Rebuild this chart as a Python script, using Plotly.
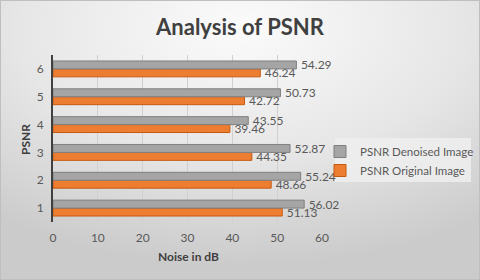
import base64
import plotly.graph_objects as go

categories = ["1", "2", "3", "4", "5", "6"]
denoised = [56.02, 55.24, 52.87, 43.55, 50.73, 54.29]
original = [51.13, 48.66, 44.35, 39.46, 42.72, 46.24]
x_ticks = [0, 10, 20, 30, 40, 50, 60]

W, H = 480, 280
ML, MR, MT, MB = 53, 158, 55, 58
PW, PH = W - ML - MR, H - MT - MB

svg = f'''<svg xmlns="http://www.w3.org/2000/svg" width="{W}" height="{H}" viewBox="0 0 {W} {H}" preserveAspectRatio="none">
<defs><radialGradient id="g" cx="50%" cy="10%" r="85%" fx="50%" fy="10%">
<stop offset="0%" stop-color="#fbfbfb"/><stop offset="55%" stop-color="#e6e6e6"/><stop offset="100%" stop-color="#cbcbcb"/>
</radialGradient></defs>
<rect x="0" y="0" width="{W}" height="{H}" fill="url(#g)"/>
<rect x="0.5" y="0.5" width="{W-1}" height="{H-1}" fill="none" stroke="#bfbfbf" stroke-width="1"/>
</svg>'''
src = "data:image/svg+xml;base64," + base64.b64encode(svg.encode()).decode()

font = "Lato, 'Open Sans', sans-serif"

def px_x(p):
    return (p - ML) / PW

def px_y(p):
    return 1 - (p - MT) / PH

fig = go.Figure()
fig.add_trace(go.Bar(
    y=categories, x=original, orientation="h", name="PSNR Original Image",
    marker=dict(color="#ed7d31", line=dict(color="#c55a11", width=1)),
    text=[f"\u2009{v:.2f}" for v in original], textposition="outside", constraintext="none",
    textfont=dict(size=12, color="#595959"), cliponaxis=False,
))
fig.add_trace(go.Bar(
    y=categories, x=denoised, orientation="h", name="PSNR Denoised Image",
    marker=dict(color="#a5a5a5", line=dict(color="#7f7f7f", width=1)),
    text=[f"\u2009{v:.2f}" for v in denoised], textposition="outside", constraintext="none",
    textfont=dict(size=12, color="#595959"), cliponaxis=False,
))

fig.update_layout(
    width=W, height=H,
    margin=dict(l=ML, r=MR, t=MT, b=MB, pad=0, autoexpand=False),
    paper_bgcolor="#e0e0e0", plot_bgcolor="rgba(0,0,0,0)",
    font=dict(family=font, color="#595959", size=12),
    barmode="group", bargap=0.43, bargroupgap=0,
    title=dict(text="<b>Analysis of PSNR</b>", x=0.5, xref="container", xanchor="center",
               y=1 - 27 / H, yref="container", yanchor="middle",
               font=dict(family=font, size=22, color="#404040")),
    showlegend=True,
    legend=dict(traceorder="reversed", xref="container", yref="container",
                x=320 / W, y=1 - 137 / H,
                xanchor="left", yanchor="top", bgcolor="rgba(0,0,0,0)",
                font=dict(size=11.5, color="#595959"), itemwidth=30,
                tracegroupgap=2),
    shapes=[dict(type="rect", xref="paper", yref="paper", layer="below",
                 x0=px_x(335), x1=px_x(471), y0=px_y(182), y1=px_y(138),
                 fillcolor="rgba(238,238,238,0.85)", line=dict(width=0))],
    annotations=[
        dict(text="<b>PSNR</b>", xref="paper", yref="paper", x=px_x(25), y=px_y(140),
             textangle=-90, showarrow=False, xanchor="center", yanchor="middle",
             font=dict(size=12, color="#404040")),
        dict(text="<b>Noise in dB</b>", xref="paper", yref="paper", x=px_x(188), y=px_y(256),
             showarrow=False, xanchor="center", yanchor="middle",
             font=dict(size=12, color="#404040")),
    ],
    images=[dict(source=src, xref="paper", yref="paper", x=-ML / PW, y=1 + MT / PH,
                 sizex=W / PW, sizey=H / PH, xanchor="left", yanchor="top",
                 sizing="stretch", layer="below")],
)
fig.update_xaxes(range=[0, 60], tickvals=x_ticks, showgrid=True, gridcolor="#d0d0d0",
                 gridwidth=1, zeroline=False, showline=False, ticks="", automargin=False,
                 ticklabelstandoff=7, tickfont=dict(size=12, color="#595959"))
fig.update_yaxes(type="category", range=[-0.5, 5.5], showgrid=False, zeroline=False, automargin=False,
                 showline=True, linecolor="#404040", linewidth=2, ticks="",
                 ticklabelstandoff=5, tickfont=dict(size=12, color="#595959"))

fig.write_html("out.html", config={"displayModeBar": False},
               post_script="document.body.style.margin='0';document.body.style.overflow='hidden';")
